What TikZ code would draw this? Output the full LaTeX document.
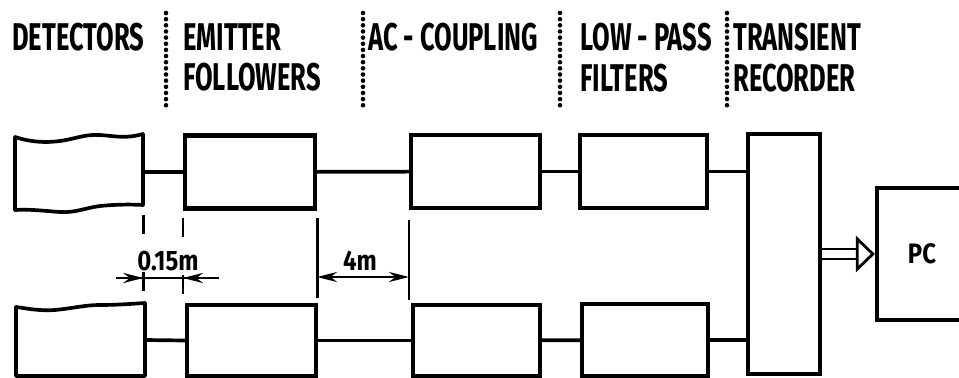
\documentclass[tikz,border=0pt]{standalone}
\usepackage{fontspec}
\setmainfont{Fira Sans}
\newfontfamily\headfont[FakeStretch=0.66]{Fira Sans}
\newfontfamily\dimfont[FakeStretch=0.85]{Fira Sans}
\usetikzlibrary{arrows.meta,calc}
\definecolor{Ink}{HTML}{000000}

\begin{document}
\begin{tikzpicture}[x=0.02cm, y=-0.02cm,
  blk/.style={draw=Ink, line width=2.4pt, inner sep=0pt, minimum width=#1, minimum height=1.46cm},
  slot/.style={inner sep=0pt, minimum width=#1, minimum height=1.46cm},
  wire/.style={draw=Ink, line width=2.1pt, line join=round},
  head/.style={anchor=north west, inner sep=0pt, align=left, text=Ink,
               font=\headfont\bfseries\fontsize{22}{23}\selectfont},
  dimlbl/.style={anchor=base, inner sep=0pt, text=Ink,
               font=\dimfont\bfseries\fontsize{16}{17}\selectfont},
  sepline/.style={line width=2.6pt, line cap=round, dash pattern=on 0pt off 3.5pt, Ink},
  ext/.style={line width=1.6pt, Ink},
  extdash/.style={ext, dash pattern=on 0.38cm off 0.77cm},
  dimline/.style={line width=1.6pt, Ink},
  tip/.style={-{Stealth[length=0.4cm, width=0.2cm]}}]

  \useasboundingbox (0,0) rectangle (959,378);

  % ===== COLUMN HEADINGS =====
  \node[head] (hdet) at (12,23) {DETECTORS};
  \node[head] (hemi) at (183,23) {EMITTER\\FOLLOWERS};
  \node[head] (hac)  at (368,23) {AC - COUPLING};
  \node[head] (hlp)  at (580,23) {LOW - PASS\\FILTERS};
  \node[head] (hrec) at (733,23) {TRANSIENT\\RECORDER};
  % dotted separators
  \foreach \x in {166,363,560,727}{
    \draw[sepline] (\x,13) -- (\x,106);
  }

  % ===== UPPER CHANNEL =====
  \node[slot=2.56cm] (detT) at (79,172) {};
  \draw[wire] (15,137) .. controls (30,142) and (45,143) .. (60,141)
        .. controls (75,139) and (85,134) .. (100,135)
        .. controls (115,136) and (125,139) .. (143,134)
        -- (143,205)
        .. controls (125,204) and (110,205) .. (100,206)
        .. controls (85,208) and (75,213) .. (60,212)
        .. controls (45,211) and (30,209) .. (15,210) -- cycle;
  \node[blk=2.6cm]  (emT) at (250,172) {};
  \node[blk=2.58cm] (acT) at (475.5,171.5) {};
  \node[blk=2.54cm] (lpT) at (643.5,171.5) {};

  % ===== LOWER CHANNEL =====
  \node[slot=2.58cm, minimum height=1.44cm] (detB) at (80.5,340) {};
  \draw[wire] (16,307) .. controls (30,309) and (40,311) .. (55,310)
        .. controls (75,308) and (85,305) .. (100,305)
        .. controls (115,305) and (130,304) .. (145,303)
        -- (145,376) -- (16,376) -- cycle;
  \node[blk=2.58cm, minimum height=1.42cm] (emB) at (251.5,340.5) {};
  \node[blk=2.54cm, minimum height=1.42cm] (acB) at (476.5,340.5) {};
  \node[blk=2.52cm, minimum height=1.44cm] (lpB) at (645,340) {};

  % ===== RECORDER AND PC =====
  \node[blk=1.44cm, minimum height=4.8cm] (rec) at (784,254) {};
  \node[blk=1.8cm, minimum height=2.64cm, dimlbl, anchor=center] (pc) at (922,254) {PC};

  % connectors
  \draw[wire] (detT.east) -- (emT.west);
  \draw[wire] (emT) -- (acT);
  \draw[wire] (acT) -- (lpT);
  \draw[wire] (lpT.east) -- (lpT.east -| rec.west);
  \draw[wire] (detB.east) -- (emB.west);
  \draw[wire] (emB) -- (acB);
  \draw[wire] (acB) -- (lpB);
  \draw[wire] (lpB.east) -- (lpB.east -| rec.west);
  % data link to PC
  \coordinate (tb) at ($(pc.west)+(-19,0)$);
  \draw[line width=1.4pt, double, double distance=4pt] (rec.east) -- (tb);
  \draw[line width=1.6pt, line join=miter,
        -{Triangle[open, length=0.38cm, width=0.72cm]}] (tb) -- (pc.west);

  % ===== 0.15 m SPACING =====
  \draw[extdash] ($(detT.south east)+(0,6)$) -- ++(0,81);
  \draw[extdash] ($(emT.south west)+(0,7)$) -- ++(0,80);
  \coordinate (m1) at (116,278);
  \coordinate (m2) at (219,278);
  \draw[dimline] (m1) -- (m2);
  \draw[dimline, tip] (m1) -- (m1 -| detT.east);
  \draw[dimline, tip] (m2) -- (m2 -| emT.west);
  \node[dimlbl] (l15) at (168,270) {0.15m};

  % ===== 4 m CABLE =====
  \draw[ext] ($(emT.south east)+(0,7)$) -- ++(0,80);
  \draw[ext] ($(acT.south west)+(0,10)$) -- ++(0,80);
  \coordinate (c1) at (317,277);
  \coordinate (c2) at (409,277);
  \draw[dimline, {Stealth[length=0.4cm, width=0.2cm]}-{Stealth[length=0.4cm, width=0.2cm]}]
        (c1) -- (c2);
  \node[dimlbl] (l4) at (360,270) {4m};

\end{tikzpicture}
\end{document}
